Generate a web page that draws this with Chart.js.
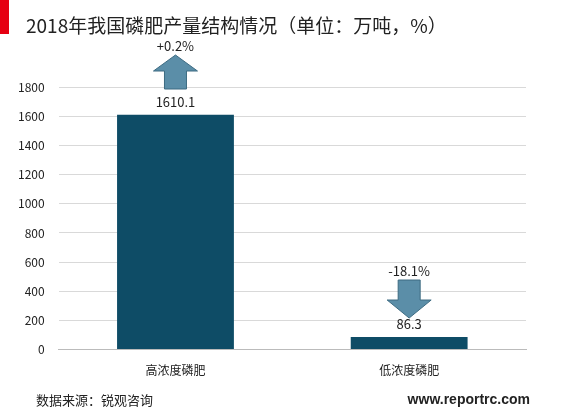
<!DOCTYPE html>
<html><head><meta charset="utf-8">
<script src="https://cdn.jsdelivr.net/npm/chart.js@4"></script>
<style>body{margin:0;background:#fff}#wrap{width:566px;height:417px}</style>
</head><body><div id="wrap"><canvas id="c"></canvas></div>
<script>
const categories = ['高浓度磷肥', '低浓度磷肥'];
const values = [1610.1, 86.3];
const changes = ['+0.2%', '-18.1%'];

const font = '"Microsoft YaHei","Noto Sans CJK SC",sans-serif';

const extras = {
    id: 'extras',
    afterDraw(chart) {
        const ctx = chart.ctx;
        ctx.save();
        // title + red marker
        ctx.fillStyle = '#e60012';
        ctx.fillRect(0, 0, 9, 34);
        ctx.fillStyle = '#222';
        ctx.font = '19px ' + font;
        ctx.textBaseline = 'middle';
        ctx.fillText('2018年我国磷肥产量结构情况（单位：万吨，%）', 26, 26);
        // footer
        ctx.font = '13px ' + font;
        ctx.fillStyle = '#222';
        ctx.fillText('数据来源：锐观咨询', 36, 400);
        ctx.font = 'bold 14px Arial, sans-serif';
        ctx.textAlign = 'right';
        ctx.fillText('www.reportrc.com', 530, 400);

        const meta = chart.getDatasetMeta(0);
        ctx.textAlign = 'center';
        meta.data.forEach((bar, i) => {
            const x = bar.x;
            ctx.fillStyle = '#222';
            ctx.font = '13px ' + font;
            ctx.fillText(values[i].toFixed(1), x, bar.y - 13);
            let top, up = changes[i].startsWith('+');
            if (up) { top = 55; } else { top = bar.y - 57; }
            ctx.fillText(changes[i], x, top - 9);
            ctx.beginPath();
            if (up) {
                ctx.moveTo(x, top); ctx.lineTo(x + 22, top + 16); ctx.lineTo(x + 11, top + 16);
                ctx.lineTo(x + 11, top + 34); ctx.lineTo(x - 11, top + 34); ctx.lineTo(x - 11, top + 16);
                ctx.lineTo(x - 22, top + 16);
            } else {
                ctx.moveTo(x - 11, top); ctx.lineTo(x + 11, top); ctx.lineTo(x + 11, top + 20);
                ctx.lineTo(x + 22, top + 20); ctx.lineTo(x, top + 38); ctx.lineTo(x - 22, top + 20);
                ctx.lineTo(x - 11, top + 20);
            }
            ctx.closePath();
            ctx.fillStyle = '#5b8ea8';
            ctx.fill();
            ctx.strokeStyle = '#3d6b82';
            ctx.lineWidth = 1;
            ctx.stroke();
        });
        ctx.restore();
    }
};

new Chart(document.getElementById('c'), {
    type: 'bar',
    data: {
        labels: categories,
        datasets: [{
            data: values,
            backgroundColor: '#0e4c66',
            barPercentage: 0.5,
            categoryPercentage: 1
        }]
    },
    options: {
        responsive: true,
        maintainAspectRatio: false,
        animation: false,
        layout: { padding: { top: 58, bottom: 33, left: 4, right: 40 } },
        plugins: { legend: { display: false }, tooltip: { enabled: false } },
        scales: {
            x: {
                grid: { display: false },
                border: { color: '#bbb' },
                ticks: { color: '#222', padding: 6, font: { size: 12, family: font } }
            },
            y: {
                min: 0, max: 2000,
                border: { display: false },
                grid: { color: ctx => ctx.tick.value === 2000 ? 'rgba(0,0,0,0)' : '#d9d9d9', drawTicks: false },
                ticks: {
                    stepSize: 200, padding: 14, color: '#222', font: { size: 12, family: font },
                    callback: v => v === 2000 ? '' : v
                }
            }
        }
    },
    plugins: [extras]
});
</script></body></html>
